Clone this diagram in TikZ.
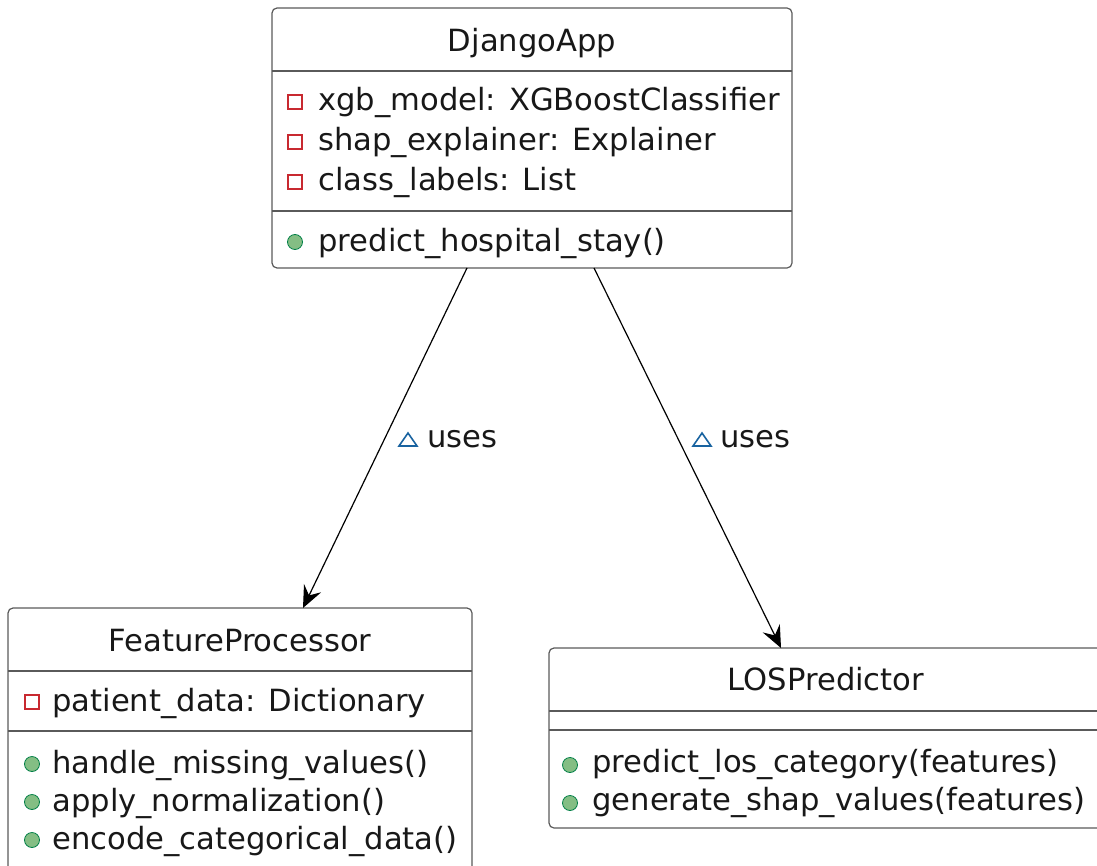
\documentclass[tikz,border=0pt]{standalone}
\usepackage{fontspec}
\setmainfont{DejaVu Sans}
\usetikzlibrary{arrows.meta}
\definecolor{linec}{HTML}{5A5A5A}
\definecolor{txtc}{HTML}{181818}
\definecolor{privc}{HTML}{C82930}
\definecolor{pubfill}{HTML}{84BE84}
\definecolor{pubdraw}{HTML}{038048}
\definecolor{relc}{HTML}{1963A0}
\tikzset{
  classbox/.style={draw=linec, fill=white, line width=0.6pt, rounded corners=2.5pt, inner sep=0pt},
  divider/.style={draw=linec, line width=0.6pt},
  title/.style={anchor=base, inner sep=0pt, text=txtc},
  member/.style={anchor=base west, inner sep=0pt, text=txtc},
  priv/.style={draw=privc, fill=white, line width=0.7pt, rectangle, minimum size=7pt, inner sep=0pt},
  pub/.style={draw=pubdraw, fill=pubfill, line width=0.4pt, circle, minimum size=7.5pt, inner sep=0pt},
  uses/.style={draw=black, line width=0.6pt, -{Stealth[length=11pt, width=9.5pt, inset=4pt]}},
  tri/.style={draw=relc, line width=0.8pt, line join=miter}
}
\begin{document}
\begin{tikzpicture}[x=0.5pt, y=-0.5pt, font=\fontsize{15.3}{20}\selectfont]
\useasboundingbox (0,0) rectangle (1097,866);
\clip (0,0) rectangle (1097,866);

% DjangoApp
\node[classbox, minimum width=260pt, minimum height=130pt] (dj) at (532,138) {};
\draw[divider] (272,71) -- (792,71);
\draw[divider] (272,211) -- (792,211);
\node[title] (djt) at (532,52) {DjangoApp};
\node[priv] (dja1i) at (295,102) {};
\node[member] (dja1) at (318,111) {xgb\_model: XGBoostClassifier};
\node[priv] (dja2i) at (295,142) {};
\node[member] (dja2) at (318,151) {shap\_explainer: Explainer};
\node[priv] (dja3i) at (295,182) {};
\node[member] (dja3) at (318,191) {class\_labels: List};
\node[pub] (djm1i) at (295,242) {};
\node[member] (djm1) at (318,251) {predict\_hospital\_stay()};

% FeatureProcessor
\node[classbox, minimum width=232pt, minimum height=140pt] (fp) at (240,748) {};
\draw[divider] (8,671) -- (472,671);
\draw[divider] (8,731) -- (472,731);
\node[title] (fpt) at (240,651) {FeatureProcessor};
\node[priv] (fpa1i) at (32,702) {};
\node[member] (fpa1) at (52,711) {patient\_data: Dictionary};
\node[pub] (fpm1i) at (32,764) {};
\node[member] (fpm1) at (52,773) {handle\_missing\_values()};
\node[pub] (fpm2i) at (32,802) {};
\node[member] (fpm2) at (52,811) {apply\_normalization()};
\node[pub] (fpm3i) at (32,840) {};
\node[member] (fpm3) at (52,849) {encode\_categorical\_data()};

% LOSPredictor
\node[classbox, minimum width=285pt, minimum height=90pt] (lp) at (834,738) {};
\draw[divider] (549,711) -- (1130,711);
\draw[divider] (549,730) -- (1130,730);
\node[title] (lpt) at (826,690) {LOSPredictor};
\node[pub] (lpm1i) at (570,765) {};
\node[member] (lpm1) at (592,772) {predict\_los\_category(features)};
\node[pub] (lpm2i) at (570,803) {};
\node[member] (lpm2) at (592,810) {generate\_shap\_values(features)};

% connector end points on the box edges
\coordinate (djL) at (467,268);
\coordinate (djR) at (594,268);
\coordinate (fpIn) at (303,608);
\coordinate (lpIn) at (781,648);

\draw[uses] (djL) -- (fpIn);
\draw[uses] (djR) -- (lpIn);

% relation labels
\node[member] (u1) at (427,447) {uses};
\draw[tri] (399,446) -- (417,446) -- (408,433) -- cycle;
\node[member] (u2) at (720,447) {uses};
\draw[tri] (693,446) -- (711,446) -- (702,433) -- cycle;
\end{tikzpicture}
\end{document}
